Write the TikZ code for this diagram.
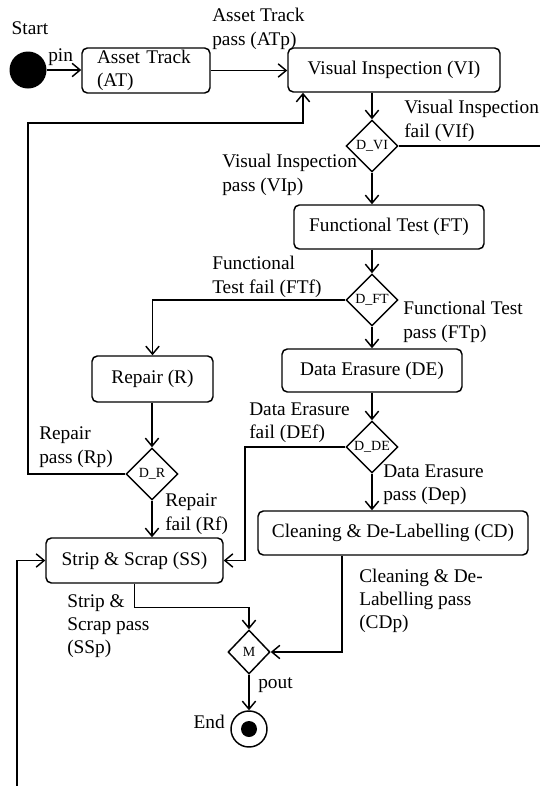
\documentclass[tikz,border=0pt]{standalone}
\usepackage{fontspec}
\setmainfont{Liberation Serif}
\newfontfamily\tnrfont{Liberation Serif}
\usetikzlibrary{arrows.meta,shapes.geometric}
\newcommand\mainfnt{\tnrfont\fontsize{14.5}{17.5}\selectfont}
\newcommand\decfnt{\tnrfont\fontsize{10.5}{12}\selectfont}
\tikzset{
  act/.style={draw, rounded corners=4pt, line width=1.1pt, inner sep=0pt, font=\mainfnt},
  dec/.style={draw, diamond, line width=1.1pt, inner sep=0pt, minimum width=39pt, minimum height=39pt, font=\decfnt},
  lbl/.style={inner sep=0pt, align=left, font=\mainfnt},
  arr/.style={line width=1.1pt, -{Straight Barb[length=6pt,width=10pt]}},
  ln/.style={line width=1.1pt},
}
\begin{document}
\begin{tikzpicture}[x=0.75pt,y=-0.75pt]
			%%%%% START %%%%%
			\useasboundingbox (0,0) rectangle (540,786);
			
			\node[circle, fill, minimum size=27.75pt, inner sep=0pt] (start) at (28,70) {};
			\node[lbl] (lstart) at (30,28) {Start};
			\node[act, minimum width=96pt, minimum height=33.75pt, text width=73.5pt, inner xsep=11.25pt, align=left] (AT) at (146,70.5) {Asset Track\\(AT)};
			\node[act, minimum width=159pt, minimum height=33pt] (VI) at (394,70) {Visual Inspection (VI)};
			\node[dec] (DVI) at (372,146) {D\_VI};
			\node[act, minimum width=142.5pt, minimum height=33pt] (FT) at (389,227) {Functional Test (FT)};
			\node[dec] (DFT) at (372,300) {D\_FT};
			\node[act, minimum width=135pt, minimum height=32.25pt] (DE) at (372,370.5) {Data Erasure (DE)};
			\node[dec] (DDE) at (372,447) {D\_DE};
			\node[act, minimum width=202.5pt, minimum height=33pt] (CD) at (393,533) {Cleaning \& De-Labelling (CD)};
			\node[act, minimum width=90.75pt, minimum height=34.5pt] (R) at (152.5,379) {Repair (R)};
			\node[dec] (DR) at (152,474) {D\_R};
			\node[act, minimum width=132.75pt, minimum height=33.75pt] (SS) at (134.5,560.5) {Strip \& Scrap (SS)};
			\node[dec, minimum width=31.5pt, minimum height=33pt] (M) at (249,652) {M};
			\node[circle, draw, line width=1.1pt, minimum size=27pt, inner sep=0pt] (end) at (249,729) {};
			\node[circle, fill, minimum size=12pt, inner sep=0pt] (endin) at (end) {};
			\node[lbl, anchor=east] (lend) at (225,722) {End};
			
			\node[lbl, anchor=west] (lpin) at (48,57) {pin};
			\node[lbl, anchor=west] (lATp) at (212,29) {Asset Track\\pass (ATp)};
			\node[lbl, anchor=west] (lVIf) at (404,121) {Visual Inspection\\fail (VIf)};
			\node[lbl, anchor=west] (lVIp) at (222,175) {Visual Inspection\\pass (VIp)};
			\node[lbl, anchor=west] (lFTf) at (212,277) {Functional\\Test fail (FTf)};
			\node[lbl, anchor=west] (lFTp) at (403,322) {Functional Test\\pass (FTp)};
			\node[lbl, anchor=west] (lRp) at (39,447) {Repair\\pass (Rp)};
			\node[lbl, anchor=west] (lRf) at (165,514) {Repair\\fail (Rf)};
			\node[lbl, anchor=west] (lDEf) at (249,423) {Data Erasure\\fail (DEf)};
			\node[lbl, anchor=west] (lDEp) at (383,485) {Data Erasure\\pass (Dep)};
			\node[lbl, anchor=west] (lCDp) at (359,601) {Cleaning \& De-\\Labelling pass\\(CDp)};
			\node[lbl, anchor=west] (lSSp) at (67,626) {Strip \&\\Scrap pass\\(SSp)};
			\node[lbl, anchor=west] (lpout) at (258,685) {pout};
			
			\coordinate (vifend) at (540,146);
			\coordinate (rploop) at (28,123);
			\coordinate (rpup) at (303,123);
			\coordinate (defx) at (245,448);
			\coordinate (cdx) at (342,555);
			\coordinate (ssin) at (17,786);
			
			\draw[arr] (start.east) -- (start.east -| AT.west);
			\draw[arr] (AT.east) -- (AT.east -| VI.west);
			\draw[arr] (VI.south -| DVI) -- (DVI.north);
			\draw[ln] (DVI.east) -- (DVI.east -| vifend);
			\draw[arr] (DVI.south) -- (DVI.south |- FT.north);
			\draw[arr] (FT.south -| DFT) -- (DFT.north);
			\draw[arr] (DFT.west) -| (R.north);
			\draw[arr] (DFT.south) -- (DFT.south |- DE.north);
			\draw[arr] (R.south -| DR) -- (DR.north);
			\draw[arr] (DR.west) -| (rploop) -- (rpup) -- (rpup |- VI.south);
			\draw[arr] (DR.south) -- (DR.south |- SS.north);
			\draw[arr] (DE.south -| DDE) -- (DDE.north);
			\draw[arr] (DDE.west) -| (defx |- SS.east) -- (SS.east);
			\draw[arr] (DDE.south) -- (DDE.south |- CD.north);
			\draw[arr] (CD.south -| cdx) |- (M.east);
			\draw[arr] (SS.south) -- ++(0,24) -| (M.north);
			\draw[arr] (M.south) -- (end.north);
			\draw[arr] (ssin) |- (SS.west);
			
			%%%%% END %%%%%
\end{tikzpicture}
\end{document}
